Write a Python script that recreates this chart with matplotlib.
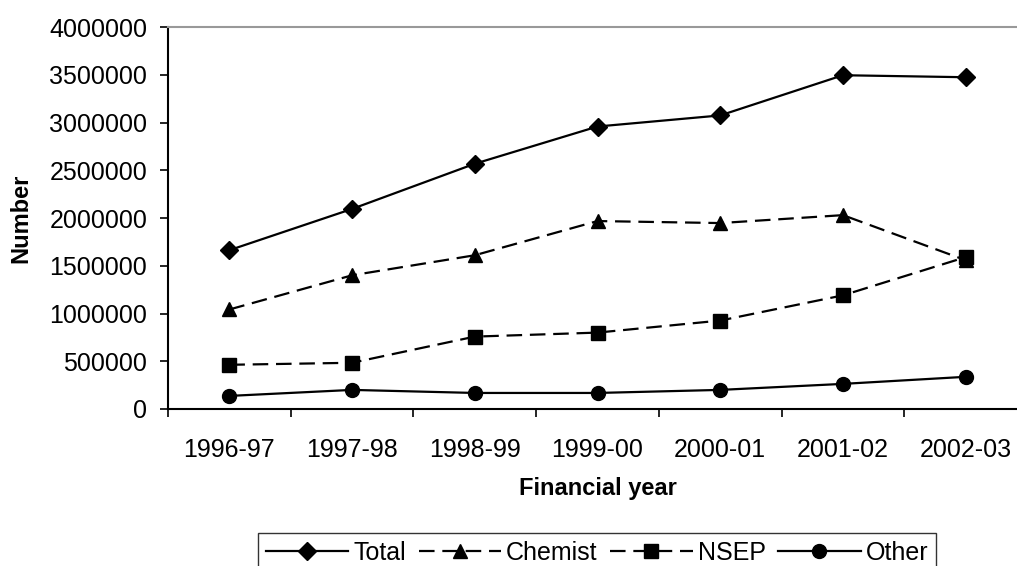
import matplotlib.pyplot as plt
from matplotlib.ticker import FuncFormatter

plt.rcParams['font.family'] = ['Liberation Sans', 'DejaVu Sans']

# Data
years = ['1996-97', '1997-98', '1998-99', '1999-00', '2000-01', '2001-02', '2002-03']
total = [1663000, 2095000, 2568000, 2958000, 3074000, 3495000, 3474000]
chemist = [1042000, 1400000, 1610000, 1968000, 1947000, 2030000, 1558000]
nsep = [463000, 484000, 758000, 800000, 926000, 1190000, 1590000]
other = [137000, 200000, 168000, 168000, 200000, 263000, 337000]

fig = plt.figure(figsize=(10.17, 5.66), dpi=100)
W, H = 1017, 566
ax = fig.add_axes([168 / W, (H - 409) / H, 859 / W, (409 - 27) / H])

x = range(len(years))
lw = 1.6
ax.plot(x, total, color='black', lw=lw, marker='D', ms=9, label='Total')
ax.plot(x, chemist, color='black', lw=lw, marker='^', ms=10, dashes=(7, 3.5), label='Chemist')
ax.plot(x, nsep, color='black', lw=lw, marker='s', ms=10, dashes=(7, 3.5), label='NSEP')
ax.plot(x, other, color='black', lw=lw, marker='o', ms=10, label='Other')

fs = 18
ax.set_xlim(-0.5, len(years) - 0.5)
ax.set_ylim(0, 4000000)
ax.set_yticks(range(0, 4000001, 500000))
ax.yaxis.set_major_formatter(FuncFormatter(lambda v, p: f'{int(v)}'))
ax.set_xticks(x)
ax.set_xticklabels(years)
ax.set_xticks([i - 0.5 for i in range(len(years) + 1)], minor=True)
ax.tick_params(axis='x', which='major', length=0, pad=21, labelsize=fs)
ax.tick_params(axis='x', which='minor', length=6, width=1.2, direction='out')
ax.tick_params(axis='y', length=6, width=1.2, direction='out', labelsize=fs, pad=9)

for side in ['left', 'bottom']:
    ax.spines[side].set_linewidth(1.5)
    ax.spines[side].set_color('black')
ax.spines['top'].set_color('#999999')
ax.spines['top'].set_linewidth(1.5)
ax.spines['right'].set_visible(False)

ax.set_xlabel('Financial year', fontsize=17, fontweight='bold', labelpad=11)
ax.set_ylabel('Number', fontsize=17, fontweight='bold', labelpad=12)

handles, labels = ax.get_legend_handles_labels()
leg = fig.legend(handles, labels, loc='upper center', bbox_to_anchor=(597 / W, 1 - 533 / H),
                 ncol=4, fontsize=fs, frameon=True, fancybox=False, edgecolor='black',
                 handlelength=3.3, columnspacing=0.5, handletextpad=0.2, borderpad=0.3,
                 borderaxespad=0)
leg.get_frame().set_linewidth(1.0)

fig.savefig('out.png', dpi=100)
